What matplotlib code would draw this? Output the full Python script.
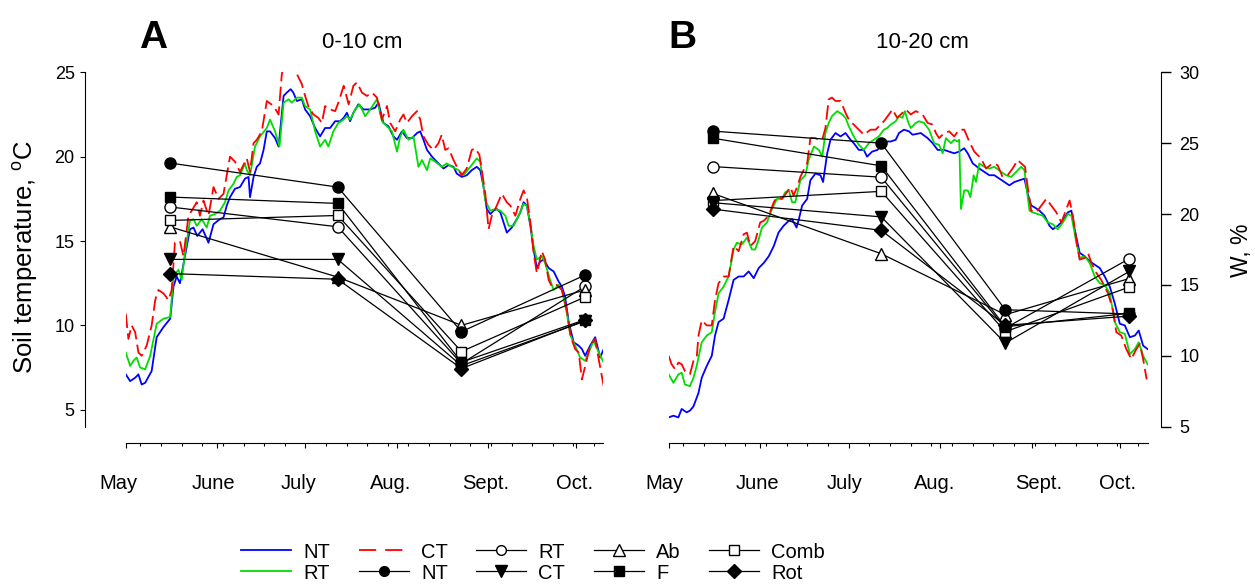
import numpy as np
import matplotlib.pyplot as plt
from matplotlib.lines import Line2D
from matplotlib.transforms import blended_transform_factory

plt.rcParams['font.family'] = ['Liberation Sans', 'DejaVu Sans']
plt.rcParams['mathtext.fontset'] = 'custom'
plt.rcParams['mathtext.rm'] = 'Liberation Sans'

# x = days since 1 May
month_days = [0, 31, 61, 92, 123, 153]
month_names = ['May', 'June', 'July', 'Aug.', 'Sept.', 'Oct.']

# ---- soil temperature, 0-10 cm (panel A) ----
nt_a_day = [0, 1.5, 3.2, 4.3, 5.4, 6.6, 8.8, 10.5, 12.8, 15.1, 16.2, 17.3, 18.4, 20.1, 21.8, 23.0, 24.3, 26.1,
            28.1, 29.8, 32.0, 33.2, 34.3, 35.4, 37.1, 38.8, 40.5, 41.7, 42.2, 43.4, 44.5, 45.6, 46.8, 47.9, 49.0,
            50.7, 51.9, 53.6, 54.7, 56.0, 56.9, 58.1, 59.8, 60.9, 62.6, 64.3, 66.0, 67.7, 69.4, 71.1, 72.8, 74.0,
            75.1, 76.2, 77.3, 79.0, 80.7, 83.0, 84.7, 85.8, 87.5, 89.2, 90.9, 92.1, 93.8, 95.5, 97.2, 98.9, 100.0,
            101.1, 102.3, 104.0, 105.6, 107.9, 109.6, 111.3, 112.4, 114.1, 115.8, 117.5, 119.2, 120.4, 121.5,
            122.6, 123.8, 124.9, 126.0, 127.2, 128.3, 129.4, 131.1, 132.8, 134.0, 135.1, 136.2, 137.4, 138.5,
            139.6, 140.8, 141.9, 143.6, 145.3, 147.0, 148.1, 149.2, 150.4, 152.1, 153.8, 154.9, 156.0, 157.7,
            159.4, 161.1, 162.3]
nt_a_t = [7.1, 6.7, 6.9, 7.1, 6.5, 6.6, 7.3, 9.3, 9.9, 10.4, 12.3, 12.9, 12.5, 14.1, 15.7, 15.8, 15.3, 15.7,
          14.9, 16.0, 16.3, 16.4, 17.1, 17.6, 18.1, 18.2, 18.7, 18.8, 17.6, 18.8, 19.4, 19.6, 20.4, 21.5, 21.5,
          21.1, 20.6, 23.6, 23.8, 24.0, 23.8, 23.3, 23.4, 22.8, 22.4, 21.7, 21.2, 21.7, 21.7, 22.1, 22.1, 22.3,
          22.6, 22.1, 22.6, 23.1, 22.8, 22.8, 22.9, 23.2, 22.0, 21.8, 21.2, 21.0, 21.5, 21.1, 21.1, 21.4, 21.5,
          21.0, 20.4, 20.0, 19.7, 19.3, 19.5, 19.4, 19.0, 18.8, 18.9, 19.2, 19.4, 19.2, 18.2,
          16.9, 16.6, 16.8, 16.9, 16.7, 16.1, 15.5, 15.8, 16.3, 16.7, 17.3, 17.1, 15.9, 14.5,
          13.4, 13.8, 13.9, 13.4, 13.2, 12.6, 12.3, 11.7, 10.2, 9.0, 8.8, 8.6, 8.2, 8.8,
          9.3, 8.1, 8.6]

rt_a_day = [0, 1.5, 2.6, 3.7, 4.9, 6.6, 8.3, 10.5, 12.8, 15.1, 16.2, 17.9, 19.0, 20.1, 21.8, 23.0, 24.1, 25.8,
            27.5, 28.6, 30.3, 32.0, 33.7, 34.9, 36.6, 37.7, 38.8, 40.5, 41.1, 42.2, 43.9, 45.6, 47.9, 49.0, 50.7,
            52.2, 53.6, 55.3, 56.4, 58.1, 59.8, 60.9, 62.6, 64.3, 66.0, 67.7, 68.8, 70.5, 72.2, 74.0, 75.1, 76.2,
            77.9, 79.4, 81.3, 83.0, 85.3, 87.0, 88.7, 90.4, 92.1, 93.2, 94.3, 96.0, 97.7, 99.4, 100.6, 102.3,
            103.4, 105.1, 107.3, 109.0, 110.7, 113.0, 114.7, 117.0, 119.2, 120.4, 122.1, 123.8, 125.5, 127.2,
            128.9, 130.0, 131.7, 133.4, 135.1, 136.2, 137.4, 138.5, 139.6, 141.3, 142.4, 144.1, 145.3, 147.0,
            148.1, 149.8, 151.0, 152.6, 154.3, 156.0, 157.7, 158.9, 160.6, 162.3]
rt_a_t = [8.4, 7.6, 7.9, 8.1, 7.5, 7.4, 8.2, 10.1, 10.4, 10.5, 12.9, 13.3, 12.7, 14.3, 16.2, 16.3, 15.9, 16.3,
          15.8, 16.5, 16.6, 16.8, 17.3, 18.0, 18.4, 18.8, 18.9, 19.6, 19.2, 18.9, 20.6, 21.2, 21.7, 22.2, 21.5,
          20.6, 23.2, 23.4, 23.2, 23.5, 23.5, 23.0, 22.8, 21.5, 20.6, 21.0, 20.6, 21.5, 22.0, 22.2, 22.4, 22.2,
          22.8, 23.1, 22.4, 22.8, 23.4, 22.1, 21.8, 21.5, 20.3, 21.2, 21.6, 21.0, 21.2, 19.4, 19.8, 19.2,
          19.9, 19.7, 19.4, 19.6, 19.4, 19.2, 18.9, 19.4, 19.9, 19.7, 17.4, 16.8, 16.9, 16.8,
          16.5, 15.9, 15.9, 16.5, 17.2, 17.1, 16.0, 14.7, 13.9, 14.1, 13.7, 12.7, 12.1, 12.4,
          12.1, 10.7, 9.4, 8.8, 8.1, 7.9, 8.6, 9.1, 8.4, 7.8]

ct_a_day = [0, 0.9, 2.0, 3.2, 4.3, 5.4, 7.1, 8.8, 10.0, 11.1, 12.8, 14.5, 15.6, 16.7, 18.4, 19.6, 21.3, 22.4,
            24.1, 25.2, 26.4, 28.1, 29.8, 31.5, 33.2, 35.4, 37.1, 38.8, 41.1, 42.2, 43.4, 44.5, 46.2, 47.9, 50.2,
            51.9, 53.0, 54.0, 56.0, 57.0, 58.1, 59.8, 60.9, 62.0, 63.7, 65.4, 66.6, 67.7, 69.4, 71.1, 72.2, 74.0,
            75.7, 77.3, 78.5, 80.2, 81.9, 83.6, 85.3, 87.0, 88.7, 89.8, 91.5, 93.2, 94.3, 95.5, 97.2, 98.9,
            100.0, 101.1, 102.8, 104.5, 106.2, 107.3, 108.5, 109.6, 111.3, 113.0, 114.1, 115.8, 117.5, 118.7,
            120.1, 120.9, 122.1, 123.2, 124.3, 126.0, 127.7, 129.4, 130.6, 132.3, 134.0, 135.1, 136.2, 137.4,
            138.5, 139.6, 141.3, 142.4, 143.6, 144.7, 146.4, 148.1, 149.8, 151.0, 152.6, 153.8, 154.9, 156.6,
            157.7, 159.4, 160.6, 162.3]
ct_a_t = [10.7, 9.2, 10.0, 9.6, 8.4, 8.2, 8.8, 10.0, 11.5, 12.1, 11.9, 11.5, 12.1, 14.9, 15.0, 14.1, 16.5, 16.8,
          17.3, 16.5, 17.4, 16.5, 18.2, 17.5, 17.8, 20.0, 19.7, 19.1, 19.9, 19.1, 20.8, 21.0, 21.5, 23.3, 23.0,
          22.5, 24.9, 25.6, 25.6, 25.1, 24.9, 24.3, 23.6, 23.0, 22.5, 22.3, 22.0, 23.0, 22.8, 22.7, 23.2, 24.2,
          23.1, 24.2, 24.4, 23.8, 23.6, 23.8, 23.5, 22.2, 23.0, 22.0, 21.5, 22.2, 22.5, 22.0, 22.4, 22.7,
          22.2, 21.2, 20.7, 20.4, 20.8, 21.3, 20.4, 20.5, 19.8, 19.2, 18.9, 19.3, 20.4, 20.5,
          20.1, 19.2, 17.8, 15.7, 16.5, 17.1, 17.8, 17.3, 17.1, 16.5, 17.5, 18.0, 17.6, 16.1,
          14.3, 13.1, 14.4, 13.9, 12.7, 12.3, 12.4, 12.1, 10.9, 9.4, 8.6, 8.4, 6.8, 8.0,
          8.8, 9.2, 8.0, 6.4]

# ---- soil temperature, 10-20 cm (panel B) ----
nt_b_day = [0, 1.6, 3.3, 4.4, 6.1, 7.2, 8.4, 10.1, 11.2, 12.9, 14.6, 15.7, 16.9, 18.6, 20.3, 22.0, 23.7, 25.4,
            27.1, 28.8, 30.5, 32.2, 33.9, 35.6, 37.2, 38.9, 40.7, 41.8, 43.3, 44.1, 45.2, 46.9, 48.0, 49.7, 51.4,
            52.3, 53.7, 54.8, 56.5, 58.2, 59.9, 61.6, 62.7, 64.4, 66.1, 67.2, 68.9, 70.7, 72.4, 74.1, 75.2, 76.9,
            78.0, 79.7, 81.4, 82.6, 85.4, 87.7, 89.4, 91.1, 93.3, 95.0, 96.7, 98.4, 100.1, 101.3, 103.0, 105.2,
            106.9, 108.6, 110.3, 112.0, 113.7, 115.4, 117.1, 118.8, 120.5, 121.6, 122.8, 123.9, 125.6, 127.3,
            129.0, 130.1, 131.8, 133.5, 135.2, 136.4, 137.5, 139.2, 140.9, 142.6, 144.3, 146.0, 147.7, 149.4,
            151.1, 152.8, 154.5, 156.2, 157.9, 159.2, 160.7, 162.2]
nt_b_t = [4.55, 4.65, 4.55, 5.05, 4.85, 4.95, 5.2, 6.0, 6.9, 7.6, 8.2, 9.4, 10.2, 10.4, 11.5, 12.7, 12.9, 12.9,
          13.2, 12.8, 13.4, 13.7, 14.1, 14.7, 15.5, 15.9, 16.2, 16.3, 15.8, 16.3, 17.1, 17.5, 18.6, 19.0, 18.9,
          18.5, 20.2, 21.0, 21.4, 21.2, 21.4, 21.0, 20.8, 20.4, 20.4, 20.0, 20.3, 20.4, 20.7, 20.9, 20.9, 21.0,
          21.4, 21.6, 21.5, 21.3, 21.4, 21.1, 20.8, 20.4, 20.4, 20.3, 20.2, 20.3, 20.5, 20.2, 19.6, 19.3,
          19.1, 18.9, 18.9, 18.7, 18.5, 18.3, 18.5, 18.6, 18.7, 17.8, 17.1, 17.0, 16.8, 16.5,
          15.9, 15.7, 15.9, 16.2, 16.7, 16.8, 15.7, 14.3, 14.1, 13.8, 13.6, 13.4, 12.9, 12.3,
          11.3, 10.1, 10.0, 9.3, 9.4, 9.7, 8.8, 8.6]

rt_b_day = [0, 1.6, 3.3, 4.4, 5.5, 7.2, 8.4, 9.5, 11.2, 12.9, 14.6, 15.7, 16.9, 18.6, 20.3, 22.0, 23.1, 24.8,
            26.5, 28.2, 29.3, 30.5, 31.6, 33.3, 35.0, 36.7, 38.4, 39.5, 40.7, 41.8, 42.9, 44.6, 46.3, 47.4, 49.2,
            50.9, 52.0, 53.1, 54.2, 55.3, 57.1, 58.8, 59.9, 61.0, 62.7, 64.4, 66.1, 67.8, 69.5, 71.2, 72.9, 74.0,
            75.2, 76.9, 78.0, 79.2, 80.0, 81.2, 82.0, 83.7, 84.8, 86.5, 88.2, 89.9, 91.6, 92.8, 93.9, 95.6, 96.7,
            97.9, 98.4, 99.0, 100.1, 101.3, 102.2, 103.3, 104.1, 105.2, 106.9, 108.6, 110.3, 112.6, 114.3, 116.0,
            117.7, 119.4, 120.5, 122.2, 123.3, 125.0, 126.7, 128.4, 130.1, 131.8, 133.5, 135.2, 136.4, 138.1,
            139.2, 140.9, 142.6, 144.3, 146.0, 147.7, 149.4, 151.1, 152.8, 154.5, 156.2, 157.9, 159.2, 160.7,
            162.2]
rt_b_t = [7.1, 6.6, 7.1, 7.2, 6.5, 6.4, 6.9, 7.6, 9.0, 9.4, 9.6, 10.8, 11.9, 12.3, 12.9, 14.5, 14.9, 14.8,
          15.2, 14.5, 14.5, 15.1, 15.8, 16.1, 16.9, 17.5, 17.5, 17.9, 18.0, 17.3, 17.3, 18.6, 18.9, 19.8, 20.6,
          20.4, 20.0, 21.4, 22.0, 22.4, 22.7, 22.5, 22.3, 21.8, 21.2, 20.7, 20.4, 20.8, 21.0, 21.2, 21.6, 21.7,
          21.9, 22.1, 22.4, 22.3, 22.7, 22.0, 21.7, 22.0, 22.1, 22.0, 21.6, 20.8, 20.7, 20.2, 21.1, 20.8, 21.0,
          20.9, 21.0, 16.9, 18.0, 18.0, 17.6, 18.9, 18.5, 19.6, 19.4, 19.3, 19.4, 19.1, 18.9, 18.8,
          19.1, 19.4, 19.2, 16.8, 16.7, 16.6, 16.5, 16.1, 16.0, 15.7, 16.1, 16.6, 16.5, 14.9,
          14.0, 14.1, 13.7, 12.9, 12.5, 12.4, 11.9, 10.2, 9.6, 9.5, 8.3, 8.6, 9.0, 8.2,
          7.7]

ct_b_day = [0, 1.0, 2.2, 3.3, 4.4, 5.5, 7.2, 8.4, 9.5, 10.1, 11.2, 12.9, 14.6, 15.7, 16.9, 18.6, 20.3, 22.0,
            23.7, 25.4, 26.5, 27.7, 29.3, 31.0, 32.2, 33.9, 35.6, 36.7, 38.4, 40.1, 41.2, 42.3, 43.5, 44.6, 45.7,
            46.9, 48.0, 49.7, 50.9, 52.0, 53.1, 54.2, 55.3, 56.5, 58.2, 59.9, 61.0, 62.7, 64.4, 66.1, 68.4, 70.1,
            71.8, 72.9, 74.6, 75.8, 77.4, 79.2, 80.3, 82.0, 83.7, 86.0, 87.7, 89.4, 90.5, 91.6, 93.3, 95.0, 96.7,
            98.4, 100.1, 101.8, 103.5, 105.8, 107.5, 109.7, 111.4, 113.1, 114.8, 116.5, 118.2, 119.4, 120.7,
            121.6, 122.8, 124.5, 126.2, 127.9, 129.6, 131.3, 133.0, 134.7, 135.8, 136.9, 138.1, 139.2, 140.9,
            142.0, 143.2, 144.9, 146.5, 148.8, 150.5, 151.6, 153.3, 155.0, 156.7, 158.4, 159.6, 160.7, 161.9]
ct_b_t = [8.2, 7.7, 7.4, 7.8, 7.7, 7.3, 7.1, 7.9, 8.1, 9.4, 10.3, 10.0, 10.0, 11.5, 12.5, 12.9, 12.9, 14.7,
          14.4, 15.4, 15.5, 14.7, 15.0, 16.1, 16.2, 16.5, 17.3, 17.6, 17.5, 17.9, 18.2, 17.7, 18.2, 18.8, 19.2,
          19.6, 21.1, 21.1, 21.0, 21.0, 21.7, 23.4, 23.5, 23.3, 23.3, 22.6, 22.2, 21.9, 21.6, 21.3, 21.6, 21.6,
          21.9, 22.1, 22.5, 22.8, 22.3, 22.6, 22.8, 22.5, 22.7, 22.5, 22.0, 21.9, 21.4, 21.1, 21.4, 21.5, 21.2,
          21.6, 21.6, 20.9, 20.3, 19.9, 19.3, 19.6, 19.5, 18.8, 18.9, 19.3, 19.8, 19.6, 19.4,
          18.2, 16.8, 16.7, 17.1, 17.5, 17.1, 16.7, 16.1, 16.9, 17.4, 16.5, 15.0, 13.9, 14.0,
          14.3, 13.7, 13.1, 12.7, 11.9, 10.9, 9.6, 9.4, 8.6, 8.0, 8.6, 8.9, 8.0, 6.8]

# ---- soil water content W, % (markers) ----
w_days = [15, 72, 114, 156]
treatments = ['RT', 'Ab', 'Comb', 'NT', 'CT', 'F', 'Rot']

w_a_rt = [20.5, 19.1, 9.45, 14.9]
w_a_ab = [19.1, 15.55, 12.15, 14.65]
w_a_comb = [19.55, 19.9, 10.3, 14.15]
w_a_nt = [23.6, 21.9, 11.7, 15.7]
w_a_ct = [16.8, 16.8, 9.3, 12.45]
w_a_f = [21.2, 20.75, 9.55, 12.55]
w_a_rot = [15.8, 15.4, 9.1, 12.5]

w_b_rt = [23.35, 22.6, 11.95, 16.85]
w_b_ab = [21.45, 17.2, 12.9, 15.45]
w_b_comb = [20.95, 21.6, 11.7, 14.85]
w_b_nt = [25.85, 25.0, 13.25, 12.95]
w_b_ct = [20.8, 19.8, 10.9, 15.95]
w_b_f = [25.35, 23.4, 12.05, 13.0]
w_b_rot = [20.35, 18.85, 12.15, 12.8]

marker_style = {'RT': ('o', 'white', 8), 'Ab': ('^', 'white', 9), 'Comb': ('s', 'white', 7.5),
                'NT': ('o', 'black', 8), 'CT': ('v', 'black', 9), 'F': ('s', 'black', 7.5),
                'Rot': ('D', 'black', 7.5)}

fig = plt.figure(figsize=(12.55, 5.84), dpi=100)
ax_a = fig.add_axes([0.1002, 0.2694, 0.3806, 0.6068])
ax_b = fig.add_axes([0.5328, 0.2694, 0.3816, 0.6068])

lw = 1.3
for ax, nt, rt, ct in [(ax_a, (nt_a_day, nt_a_t), (rt_a_day, rt_a_t), (ct_a_day, ct_a_t)),
                       (ax_b, (nt_b_day, nt_b_t), (rt_b_day, rt_b_t), (ct_b_day, ct_b_t))]:
    ax.plot(nt[0], nt[1], color='#0000ff', lw=lw)
    ax.plot(rt[0], rt[1], color='#00dd00', lw=lw)
    ax.plot(ct[0], ct[1], color='#ff0000', lw=lw, dashes=(8, 3))
    ax.set_xlim(0, 162.2)
    ax.set_ylim(4, 25)
    ax.spines['top'].set_visible(False)
    ax.spines['right'].set_visible(False)
    ax.spines['bottom'].set_position(('outward', 11.5))
    ax.set_xticks(month_days)
    ax.set_xticklabels([])
    ax.set_xticks(np.arange(5, 163, 7), minor=True)
    ax.tick_params(axis='x', which='major', length=3.8, width=0.8)
    ax.tick_params(axis='x', which='minor', length=2.4, width=0.8)

# left temperature axis
ax_a.spines['left'].set_position(('outward', 29.5))
ax_a.set_yticks([5, 10, 15, 20, 25])
ax_a.tick_params(axis='y', length=3.8, width=0.8, labelsize=13, pad=3.5)
ax_b.spines['left'].set_visible(False)
ax_b.set_yticks([])

# month labels
month_pos_a = [-2.4, 29.7, 58.8, 90.1, 122.2, 152.4]
month_pos_b = [-1.3, 30.1, 59.7, 90.1, 125.4, 152.2]
for ax, pos in [(ax_a, month_pos_a), (ax_b, month_pos_b)]:
    tr = blended_transform_factory(ax.transData, ax.transAxes)
    for p, name in zip(pos, month_names):
        ax.text(p, -0.176, name, transform=tr, ha='center', va='baseline', fontsize=14.5)

# water content on twin axes
tw_a = ax_a.twinx()
tw_b = ax_b.twinx()
series_a = {'RT': w_a_rt, 'Ab': w_a_ab, 'Comb': w_a_comb, 'NT': w_a_nt, 'CT': w_a_ct, 'F': w_a_f, 'Rot': w_a_rot}
series_b = {'RT': w_b_rt, 'Ab': w_b_ab, 'Comb': w_b_comb, 'NT': w_b_nt, 'CT': w_b_ct, 'F': w_b_f, 'Rot': w_b_rot}
for tw, ser in [(tw_a, series_a), (tw_b, series_b)]:
    for name in treatments:
        m, fc, ms = marker_style[name]
        tw.plot(w_days, ser[name], color='black', lw=0.9, marker=m, markersize=ms,
                markerfacecolor=fc, markeredgecolor='black', markeredgewidth=1.0)
    tw.set_ylim(5, 30)
    tw.set_xlim(0, 162.2)
    for s in ['top', 'left', 'bottom']:
        tw.spines[s].set_visible(False)

tw_a.spines['right'].set_visible(False)
tw_a.set_yticks([])
tw_b.spines['right'].set_position(('outward', 10))
tw_b.set_yticks([5, 10, 15, 20, 25, 30])
tw_b.tick_params(axis='y', length=7, width=1.0, labelsize=13, pad=6)

# labels and titles
fig.text(25 / 1255, 1 - 257 / 584, 'Soil temperature, $^{\\mathrm{o}}$C', rotation=90,
         ha='center', va='center', fontsize=18.5)
fig.text(1241.7 / 1255, 1 - 250.5 / 584, 'W, %', rotation=90, ha='center', va='center', fontsize=16.5)
fig.text(362 / 1255, 1 - 48 / 584, '0-10 cm', ha='center', va='baseline', fontsize=16)
fig.text(922.5 / 1255, 1 - 48 / 584, '10-20 cm', ha='center', va='baseline', fontsize=16)
fig.text(153 / 1255, 1 - 48 / 584, 'A', ha='center', va='baseline', fontsize=28, fontweight='bold')
fig.text(682 / 1255, 1 - 48 / 584, 'B', ha='center', va='baseline', fontsize=28, fontweight='bold')

# legend
handles = [
    Line2D([], [], color='#0000ff', lw=lw),
    Line2D([], [], color='#00dd00', lw=lw),
    Line2D([], [], color='#ff0000', lw=lw, dashes=(9.5, 5)),
    Line2D([], [], color='black', lw=0.9, marker='o', ms=7, mfc='black', mec='black'),
    Line2D([], [], color='black', lw=0.9, marker='o', ms=7, mfc='white', mec='black'),
    Line2D([], [], color='black', lw=0.9, marker='v', ms=8, mfc='black', mec='black'),
    Line2D([], [], color='black', lw=0.9, marker='^', ms=8, mfc='white', mec='black'),
    Line2D([], [], color='black', lw=0.9, marker='s', ms=6.5, mfc='black', mec='black'),
    Line2D([], [], color='black', lw=0.9, marker='s', ms=6.5, mfc='white', mec='black'),
    Line2D([], [], color='black', lw=0.9, marker='D', ms=7, mfc='black', mec='black'),
]
labels = ['NT', 'RT', 'CT', 'NT', 'RT', 'CT', 'Ab', 'F', 'Comb', 'Rot']
fig.legend(handles, labels, loc='center', bbox_to_anchor=(0.4247, 0.0368), ncol=5, frameon=False,
           fontsize=14.5, borderpad=0, handlelength=2.5, handletextpad=0.6, columnspacing=1.4,
           labelspacing=0.1)

fig.savefig('out.png', dpi=100)
